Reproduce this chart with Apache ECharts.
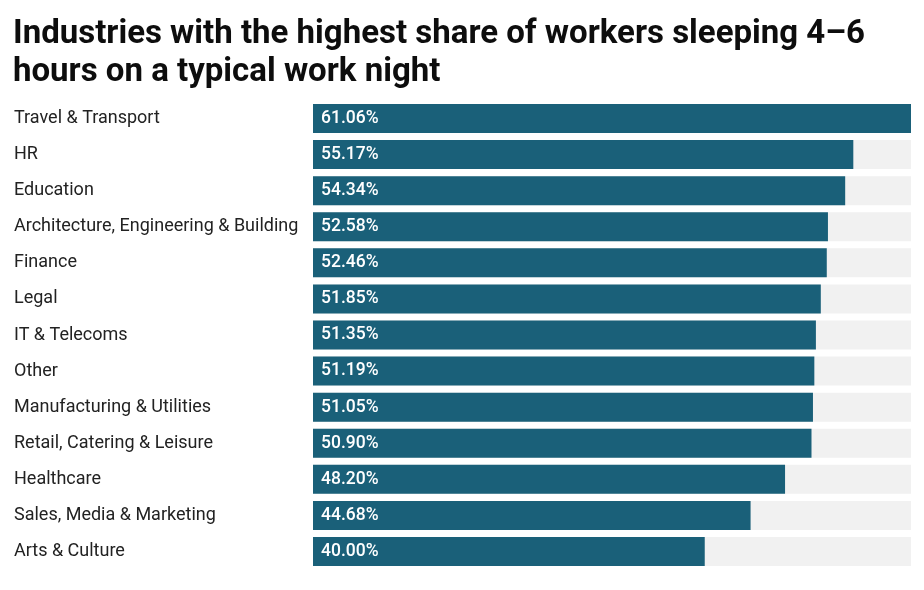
<!DOCTYPE html>
<html>
<head>
<meta charset="utf-8">
<script src="https://cdn.jsdelivr.net/npm/echarts@6/dist/echarts.min.js"></script>
<style>
html, body { margin: 0; padding: 0; background: #fff; }
#main { width: 924px; height: 590px; }
</style>
</head>
<body>
<div id="main"></div>
<script>
var industries = ['Travel & Transport', 'HR', 'Education', 'Architecture, Engineering & Building',
    'Finance', 'Legal', 'IT & Telecoms', 'Other', 'Manufacturing & Utilities',
    'Retail, Catering & Leisure', 'Healthcare', 'Sales, Media & Marketing', 'Arts & Culture'];
var shares = [61.06, 55.17, 54.34, 52.58, 52.46, 51.85, 51.35, 51.19, 51.05, 50.90, 48.20, 44.68, 40.00];

var myChart = echarts.init(document.getElementById('main'));

var option = {
    animation: false,
    title: {
        text: 'Industries with the highest share of workers sleeping 4–6\nhours on a typical work night',
        left: 8,
        top: 11,
        textStyle: {
            fontFamily: 'Roboto',
            fontSize: 33,
            fontWeight: 'bold',
            color: '#0d0d0d',
            lineHeight: 38
        }
    },
    grid: {left: 313, right: 13, top: 100.5, bottom: 20.5},
    xAxis: {
        type: 'value',
        min: 0,
        max: 61.06,
        show: false
    },
    yAxis: {
        type: 'category',
        inverse: true,
        data: industries,
        axisLine: {show: false},
        axisTick: {show: false},
        axisLabel: {
            margin: 299,
            align: 'left',
            fontFamily: 'Roboto',
            fontSize: 18,
            color: '#222',
            padding: [6, 0, 0, 0]
        }
    },
    series: [
        {
            type: 'bar',
            data: shares,
            barWidth: 29,
            showBackground: true,
            backgroundStyle: {color: '#f1f1f1'},
            itemStyle: {color: '#1a6079'},
            label: {
                show: true,
                position: 'insideLeft',
                distance: 8,
                fontFamily: 'Roboto',
                fontSize: 17.5,
                fontWeight: 500,
                color: '#fff',
                padding: [6, 0, 0, 0],
                formatter: function (p) {
                    return p.value.toFixed(2) + '%';
                }
            }
        }
    ]
};

myChart.setOption(option);
</script>
</body>
</html>
